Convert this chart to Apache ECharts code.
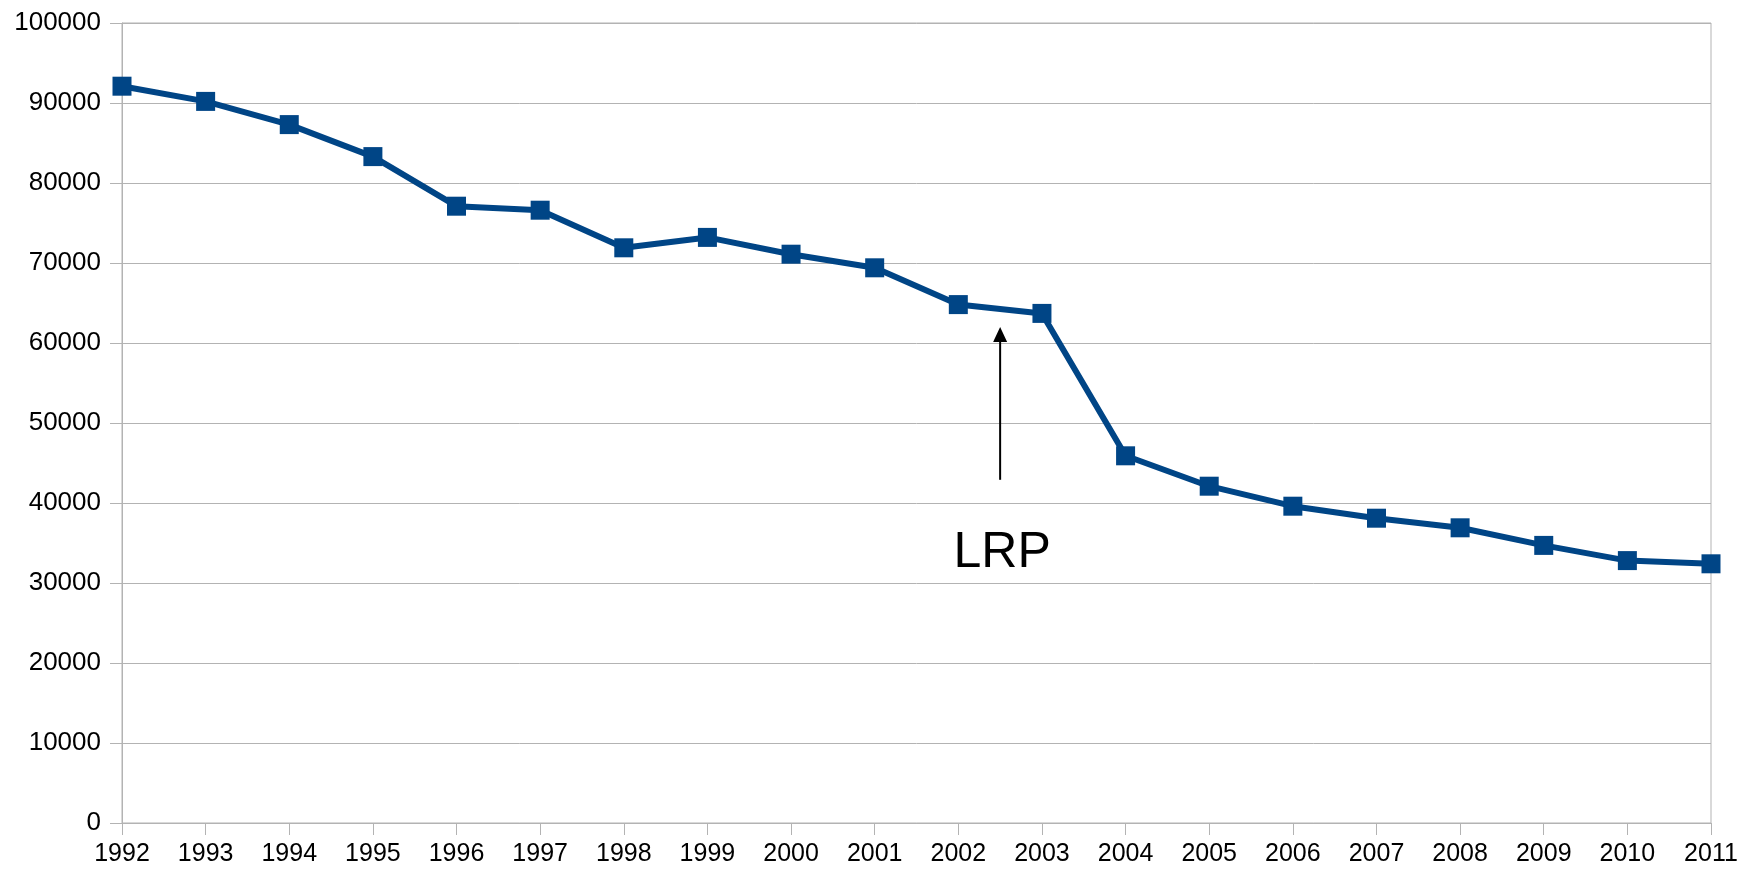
<!DOCTYPE html>
<html>
<head>
<meta charset="utf-8">
<script src="https://cdn.jsdelivr.net/npm/echarts@6/dist/echarts.min.js"></script>
<style>
  html, body { margin: 0; padding: 0; background: #fff; }
  #chart { width: 1750px; height: 874px; }
</style>
</head>
<body>
<div id="chart"></div>
<script>
// years on the x axis
var years = ['1992', '1993', '1994', '1995', '1996', '1997', '1998', '1999', '2000', '2001',
    '2002', '2003', '2004', '2005', '2006', '2007', '2008', '2009', '2010', '2011'];
// values
var values = [92100, 90200, 87300, 83300, 77100, 76600, 71900, 73200, 71100, 69400,
    64800, 63700, 45900, 42100, 39600, 38100, 36900, 34700, 32800, 32400];
// y tick labels
var yTicks = [0, 10000, 20000, 30000, 40000, 50000, 60000, 70000, 80000, 90000, 100000];

// annotation: arrow between 2002 and 2003
var arrowFrom = ['2002', '2003'];
var arrowValues = [42900, 62000];
var noteText = 'LRP';
var noteValue = 33700;

var lineColor = '#004586';
var gridColor = '#b3b3b3';
var fontName = 'Liberation Sans, Arial, sans-serif';

var myChart = echarts.init(document.getElementById('chart'));

var option = {
    animation: false,
    backgroundColor: '#ffffff',
    grid: {
        left: 122,
        right: 39,
        top: 23,
        bottom: 51,
        show: true,
        borderColor: gridColor,
        borderWidth: 1
    },
    xAxis: {
        type: 'category',
        data: years,
        boundaryGap: false,
        axisLine: { lineStyle: { color: gridColor, width: 1 } },
        axisTick: { show: true, length: 12, lineStyle: { color: gridColor } },
        axisLabel: { color: '#000', fontSize: 25, fontFamily: fontName, margin: 19 },
        splitLine: { show: false }
    },
    yAxis: {
        type: 'value',
        min: yTicks[0],
        max: yTicks[yTicks.length - 1],
        interval: 10000,
        axisLine: { show: true, lineStyle: { color: gridColor, width: 1 } },
        axisTick: { show: true, length: 12, lineStyle: { color: gridColor } },
        axisLabel: {
            color: '#000', fontSize: 26, fontFamily: fontName, margin: 21,
            formatter: function (v) { return String(v); }
        },
        splitLine: { show: true, lineStyle: { color: gridColor, width: 1 } }
    },
    series: [{
        type: 'line',
        data: values,
        symbol: 'rect',
        symbolSize: 19,
        lineStyle: { color: lineColor, width: 6 },
        itemStyle: {
            color: lineColor,
            borderWidth: 0
        }
    }]
};

myChart.setOption(option);

// place the arrow and text using the chart's own axes
var xa = myChart.convertToPixel({ gridIndex: 0 }, [arrowFrom[0], 0])[0];
var xb = myChart.convertToPixel({ gridIndex: 0 }, [arrowFrom[1], 0])[0];
var ax = (xa + xb) / 2;
var yLow = myChart.convertToPixel({ yAxisIndex: 0 }, arrowValues[0]);
var yHigh = myChart.convertToPixel({ yAxisIndex: 0 }, arrowValues[1]);
var yText = myChart.convertToPixel({ yAxisIndex: 0 }, noteValue);

myChart.setOption({
    graphic: [
        {
            type: 'line',
            shape: { x1: ax, y1: yLow, x2: ax, y2: yHigh + 12 },
            style: { stroke: '#000', lineWidth: 2 },
            z: 10
        },
        {
            type: 'polygon',
            shape: { points: [[ax, yHigh], [ax - 7, yHigh + 15], [ax + 7, yHigh + 15]] },
            style: { fill: '#000' },
            z: 10
        },
        {
            type: 'text',
            x: ax + 2,
            y: yText,
            style: {
                text: noteText,
                fill: '#000',
                font: '50px ' + fontName,
                align: 'center',
                verticalAlign: 'middle'
            },
            z: 10
        }
    ]
});
</script>
</body>
</html>
